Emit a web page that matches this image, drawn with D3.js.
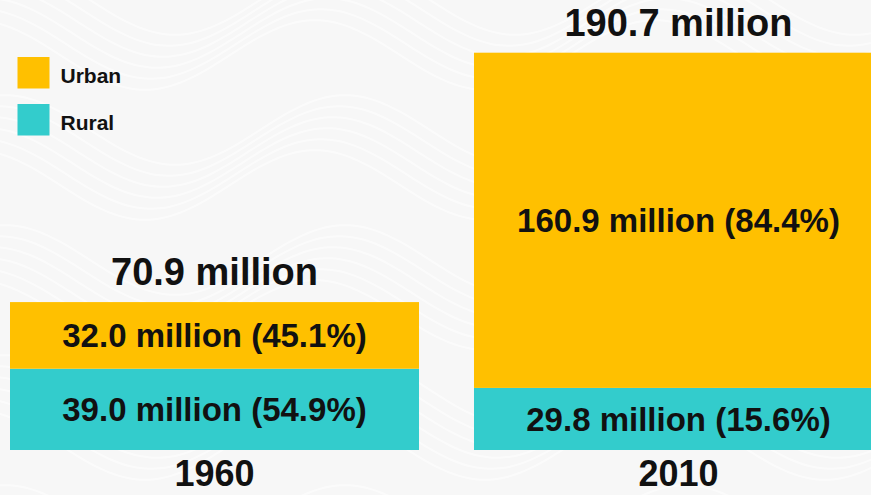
<!DOCTYPE html>
<html>
<head>
<meta charset="utf-8">
<script src="https://cdn.jsdelivr.net/npm/d3@7/dist/d3.min.js"></script>
<style>
  html, body { margin: 0; padding: 0; background: #f7f7f7; }
  svg { display: block; }
  text { font-family: "Liberation Sans", Arial, sans-serif; font-weight: bold; fill: #111; }
</style>
</head>
<body>
<svg id="chart" width="871" height="495"></svg>
<script>
// ---- data ----
const years = ["1960", "2010"];
const seriesNames = ["Urban", "Rural"];
const urban = [32.0, 160.9];
const rural = [39.0, 29.8];
const totals = [70.9, 190.7];
const urbanPct = [45.1, 84.4];
const ruralPct = [54.9, 15.6];
const colors = ["#FFC000", "#33CCCC"];

const W = 871, H = 495;
const svg = d3.select("#chart");

// ---- background waves ----
const bg = svg.append("g");
bg.append("rect").attr("width", W).attr("height", H).attr("fill", "#f7f7f7");
const waveLine = d3.line().curve(d3.curveBasis);
for (let g = -1; g < 5; g++) {
  for (let k = 0; k < 6; k++) {
    const pts = d3.range(-20, W + 40, 10).map(x => [x, g * 130 + k * 11 + 35 * Math.sin((x - 90 + k * 6) / 340 * 2 * Math.PI)]);
    bg.append("path").attr("d", waveLine(pts)).attr("fill", "none")
      .attr("stroke", "#ffffff").attr("stroke-width", 2).attr("opacity", 0.55);
  }
}

// ---- scales ----
const x = d3.scaleBand().domain(years).range([10, 883]).paddingInner(0.1185).paddingOuter(0);
const y = d3.scaleLinear().domain([0, d3.max(totals)]).range([450, 52.7]);

const rows = years.map((yr, i) => ({ year: yr, Rural: rural[i], Urban: urban[i] }));
const stack = d3.stack().keys(["Rural", "Urban"]);
const stacked = stack(rows);
const color = d3.scaleOrdinal().domain(seriesNames).range(colors);

const labelInfo = {
  Urban: { vals: urban, pct: urbanPct },
  Rural: { vals: rural, pct: ruralPct }
};

stacked.forEach(layer => {
  const key = layer.key;
  const g = svg.append("g");
  g.selectAll("rect").data(layer).join("rect")
    .attr("x", d => x(d.data.year))
    .attr("width", x.bandwidth())
    .attr("y", d => y(d[1]))
    .attr("height", d => y(d[0]) - y(d[1]))
    .attr("fill", color(key));
  g.selectAll("text").data(layer).join("text")
    .attr("x", d => x(d.data.year) + x.bandwidth() / 2)
    .attr("y", d => (y(d[0]) + y(d[1])) / 2 + 12)
    .attr("text-anchor", "middle")
    .attr("font-size", 33)
    .text((d, i) => `${labelInfo[key].vals[i].toFixed(1)} million (${labelInfo[key].pct[i].toFixed(1)}%)`);
});

// totals
svg.append("g").selectAll("text").data(years).join("text")
  .attr("x", d => x(d) + x.bandwidth() / 2)
  .attr("y", (d, i) => y(totals[i]) - 17)
  .attr("text-anchor", "middle")
  .attr("font-size", 38)
  .text((d, i) => `${totals[i].toFixed(1)} million`);

// year axis labels
svg.append("g").selectAll("text").data(years).join("text")
  .attr("x", d => x(d) + x.bandwidth() / 2)
  .attr("y", 486)
  .attr("text-anchor", "middle")
  .attr("font-size", 36)
  .text(d => d);

// legend
const leg = svg.append("g").attr("transform", "translate(17.5,57)");
seriesNames.forEach((name, i) => {
  const gi = leg.append("g").attr("transform", `translate(0,${i * 47})`);
  gi.append("rect").attr("width", 32).attr("height", 31.5).attr("fill", color(name));
  gi.append("text").attr("x", 43).attr("y", 26).attr("font-size", 21).text(name);
});
</script>
</body>
</html>
